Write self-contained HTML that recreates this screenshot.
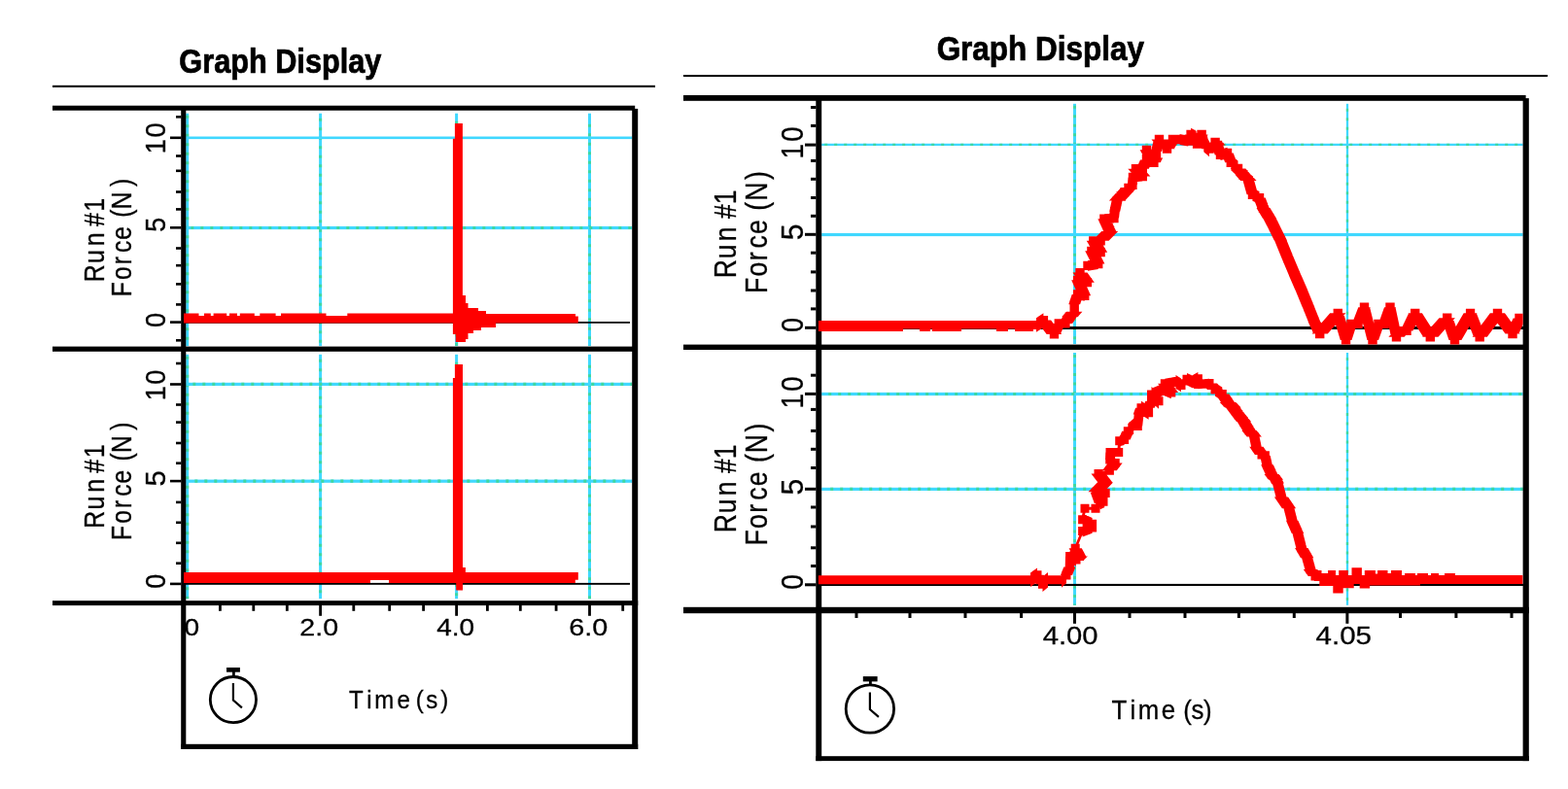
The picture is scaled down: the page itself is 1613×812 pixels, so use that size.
<!DOCTYPE html>
<html lang="en"><head><meta charset="utf-8"><title>Graph Display</title>
<style>
html,body{margin:0;padding:0;background:#fff;}
body{width:1613px;height:812px;overflow:hidden;}
svg{display:block;}
text{font-family:"Liberation Sans",sans-serif;fill:#000;}
</style></head><body>
<svg width="1613" height="812" viewBox="0 0 1613 812">
<rect width="1613" height="812" fill="#fff"/>
<g id="left">
<rect x="191.20" y="116.70" width="3.00" height="239.40" fill="#40d8ff" />
<path d="M192.70 118.7V356.1" stroke="#40d8a0" stroke-width="3.0" stroke-dasharray="3 6.5" fill="none"/>
<rect x="191.20" y="364.80" width="3.00" height="251.40" fill="#40d8ff" />
<path d="M192.70 366.8V616.2" stroke="#40d8a0" stroke-width="3.0" stroke-dasharray="3 6.5" fill="none"/>
<rect x="328.10" y="116.70" width="3.00" height="239.40" fill="#40d8ff" />
<path d="M329.60 121.7V356.1" stroke="#40d8a0" stroke-width="3.0" stroke-dasharray="3 6.5" fill="none"/>
<rect x="328.10" y="364.80" width="3.00" height="251.40" fill="#40d8ff" />
<path d="M329.60 369.8V616.2" stroke="#40d8a0" stroke-width="3.0" stroke-dasharray="3 6.5" fill="none"/>
<rect x="468.10" y="116.70" width="3.00" height="239.40" fill="#40d8ff" />
<path d="M469.60 124.7V356.1" stroke="#40d8a0" stroke-width="3.0" stroke-dasharray="3 6.5" fill="none"/>
<rect x="468.10" y="364.80" width="3.00" height="251.40" fill="#40d8ff" />
<path d="M469.60 372.8V616.2" stroke="#40d8a0" stroke-width="3.0" stroke-dasharray="3 6.5" fill="none"/>
<rect x="605.00" y="116.70" width="3.00" height="239.40" fill="#40d8ff" />
<path d="M606.50 127.7V356.1" stroke="#40d8a0" stroke-width="3.0" stroke-dasharray="3 6.5" fill="none"/>
<rect x="605.00" y="364.80" width="3.00" height="251.40" fill="#40d8ff" />
<path d="M606.50 375.8V616.2" stroke="#40d8a0" stroke-width="3.0" stroke-dasharray="3 6.5" fill="none"/>
<rect x="191.30" y="140.50" width="458.90" height="2.60" fill="#40d8ff" />
<rect x="191.30" y="232.90" width="458.90" height="3.20" fill="#40d8ff" />
<path d="M196.3 234.50H650.2" stroke="#40d8a0" stroke-width="3.2" stroke-dasharray="3 7" fill="none"/>
<rect x="191.30" y="393.80" width="458.90" height="3.20" fill="#40d8ff" />
<path d="M198.3 395.40H650.2" stroke="#40d8a0" stroke-width="3.2" stroke-dasharray="3 7" fill="none"/>
<rect x="191.30" y="493.60" width="458.90" height="3.20" fill="#40d8ff" />
<path d="M200.3 495.20H650.2" stroke="#40d8a0" stroke-width="3.2" stroke-dasharray="3 7" fill="none"/>
<rect x="191.00" y="331.00" width="457.00" height="1.80" fill="#000" />
<rect x="191.00" y="599.90" width="457.00" height="1.90" fill="#000" />
<rect x="54.00" y="87.80" width="620.00" height="2.10" fill="#000" />
<rect x="54.00" y="108.70" width="599.20" height="5.00" fill="#000" />
<rect x="54.00" y="356.60" width="597.20" height="5.20" fill="#000" />
<rect x="54.00" y="618.20" width="602.20" height="4.90" fill="#000" />
<rect x="186.20" y="110.70" width="5.10" height="660.30" fill="#000" />
<rect x="650.20" y="111.90" width="6.00" height="659.10" fill="#000" />
<rect x="186.20" y="765.80" width="470.00" height="5.20" fill="#000" />
<rect x="181.00" y="119.00" width="5.50" height="2.60" fill="#000" />
<rect x="181.00" y="159.20" width="5.50" height="2.60" fill="#000" />
<rect x="181.00" y="174.50" width="5.50" height="2.60" fill="#000" />
<rect x="181.00" y="196.20" width="5.50" height="2.60" fill="#000" />
<rect x="181.00" y="214.10" width="5.50" height="2.60" fill="#000" />
<rect x="181.00" y="254.20" width="5.50" height="2.60" fill="#000" />
<rect x="181.00" y="271.90" width="5.50" height="2.60" fill="#000" />
<rect x="181.00" y="291.10" width="5.50" height="2.60" fill="#000" />
<rect x="181.00" y="312.10" width="5.50" height="2.60" fill="#000" />
<rect x="181.00" y="349.00" width="5.50" height="2.60" fill="#000" />
<rect x="175.00" y="140.50" width="11.50" height="2.60" fill="#000" />
<rect x="175.00" y="233.00" width="11.50" height="2.60" fill="#000" />
<rect x="175.00" y="330.30" width="11.50" height="2.60" fill="#000" />
<rect x="181.00" y="372.70" width="5.50" height="2.60" fill="#000" />
<rect x="181.00" y="415.20" width="5.50" height="2.60" fill="#000" />
<rect x="181.00" y="433.30" width="5.50" height="2.60" fill="#000" />
<rect x="181.00" y="454.70" width="5.50" height="2.60" fill="#000" />
<rect x="181.00" y="475.40" width="5.50" height="2.60" fill="#000" />
<rect x="181.00" y="515.60" width="5.50" height="2.60" fill="#000" />
<rect x="181.00" y="536.50" width="5.50" height="2.60" fill="#000" />
<rect x="181.00" y="557.50" width="5.50" height="2.60" fill="#000" />
<rect x="181.00" y="578.40" width="5.50" height="2.60" fill="#000" />
<rect x="175.00" y="394.20" width="11.50" height="2.60" fill="#000" />
<rect x="175.00" y="493.80" width="11.50" height="2.60" fill="#000" />
<rect x="175.00" y="599.60" width="11.50" height="2.60" fill="#000" />
<rect x="225.00" y="623.00" width="2.80" height="5.80" fill="#000" />
<rect x="259.40" y="623.00" width="2.80" height="5.80" fill="#000" />
<rect x="293.90" y="623.00" width="2.80" height="5.80" fill="#000" />
<rect x="362.40" y="623.00" width="2.80" height="5.80" fill="#000" />
<rect x="399.30" y="623.00" width="2.80" height="5.80" fill="#000" />
<rect x="434.20" y="623.00" width="2.80" height="5.80" fill="#000" />
<rect x="500.00" y="623.00" width="2.80" height="5.80" fill="#000" />
<rect x="533.90" y="623.00" width="2.80" height="5.80" fill="#000" />
<rect x="570.70" y="623.00" width="2.80" height="5.80" fill="#000" />
<rect x="639.30" y="623.00" width="2.80" height="5.80" fill="#000" />
<rect x="328.20" y="623.00" width="2.80" height="10.80" fill="#000" />
<rect x="468.20" y="623.00" width="2.80" height="10.80" fill="#000" />
<rect x="605.10" y="623.00" width="2.80" height="10.80" fill="#000" />
<polygon points="189.0,322.6 204.5,322.6 204.5,325.1 210.0,325.1 210.0,322.6 216.8,322.6 216.8,325.1 219.6,325.1 219.6,322.6 233.2,322.6 233.2,325.1 236.0,325.1 236.0,322.6 244.0,322.6 244.0,325.1 246.8,325.1 246.8,322.6 261.8,322.6 261.8,325.1 267.3,325.1 267.3,322.6 283.6,322.6 283.6,325.1 289.0,325.1 289.0,322.6 335.5,322.6 335.5,325.1 357.3,325.1 357.3,322.6 465.9,322.6 465.9,142.8 467.9,142.8 467.9,127.0 475.9,127.0 475.9,304.0 479.0,304.0 479.0,312.0 481.5,312.0 481.5,317.0 492.0,317.0 492.0,320.0 500.0,320.0 500.0,323.0 592.0,323.0 592.0,325.4 594.8,325.4 594.8,332.6 510.0,332.6 510.0,337.0 495.0,337.0 495.0,340.0 487.0,340.0 487.0,343.0 481.5,343.0 481.5,349.0 479.0,349.0 479.0,352.0 468.7,352.0 468.7,344.0 465.9,344.0 465.9,332.6 189.0,332.6" fill="#fe0000"/>
<polygon points="189.0,588.9 465.9,588.9 465.9,389.0 467.9,389.0 467.9,375.0 476.0,375.0 476.0,584.1 478.9,584.1 478.9,588.9 594.8,588.9 594.8,596.7 591.8,596.7 591.8,599.9 478.9,599.9 476.0,599.9 476.0,607.6 469.2,607.6 469.2,599.9 400.0,599.9 400.0,596.9 381.0,596.9 381.0,599.9 189.0,599.9" fill="#fe0000"/>
<text transform="matrix(0.3068 0 0 0.3433 184.37 74.65)" font-size="100" font-weight="bold" stroke="#000" stroke-width="2.15" >Graph Display</text>
<text transform="matrix(0 -0.2721 0.2926 0 169.56 1000.00)" x="3093.8 3155.0" y="0" font-size="100" stroke="#000" stroke-width="1.06">10</text>
<text transform="matrix(0 -0.2695 0.2968 0 169.55 238.78)" font-size="100" font-weight="normal" stroke="#000" stroke-width="1.06" >5</text>
<text transform="matrix(0 -0.2723 0.2926 0 169.56 337.09)" font-size="100" font-weight="normal" stroke="#000" stroke-width="1.06" >0</text>
<text transform="matrix(0 -0.2721 0.2926 0 169.56 1000.00)" x="2159.9 2221.1" y="0" font-size="100" stroke="#000" stroke-width="1.06">10</text>
<text transform="matrix(0 -0.2926 0.2968 0 169.55 500.57)" font-size="100" font-weight="normal" stroke="#000" stroke-width="1.02" >5</text>
<text transform="matrix(0 -0.2702 0.2926 0 169.56 605.68)" font-size="100" font-weight="normal" stroke="#000" stroke-width="1.07" >0</text>
<text transform="matrix(0 -0.2493 0.2967 0 106.85 1000.00)" x="2846.8 2924.7 2995.5 3025.5 3076.2 3138.0" y="0" font-size="100" stroke="#000" stroke-width="1.10">Run #1</text>
<text transform="matrix(0 -0.2456 0.2924 0 135.45 1000.00)" x="2829.1 2899.0 2963.1 3013.5 3067.3 3097.3 3161.1 3195.3 3289.9" y="0" font-size="100" stroke="#000" stroke-width="1.12">Force (N)</text>
<text transform="matrix(0 -0.2493 0.2967 0 106.85 1000.00)" x="1829.7 1907.6 1978.4 2008.4 2059.2 2120.9" y="0" font-size="100" stroke="#000" stroke-width="1.10">Run #1</text>
<text transform="matrix(0 -0.2456 0.2924 0 135.45 1000.00)" x="1807.9 1877.8 1941.9 1992.3 2046.1 2076.1 2139.8 2174.1 2268.7" y="0" font-size="100" stroke="#000" stroke-width="1.12">Force (N)</text>
<text transform="matrix(0.2806 0 0 0.2431 189.48 654.21)" font-size="100" font-weight="normal" stroke="#000" stroke-width="1.15" >0</text>
<text transform="matrix(0.2856 0 0 0.2431 308.37 654.21)" font-size="100" font-weight="normal" stroke="#000" stroke-width="1.13" >2.0</text>
<text transform="matrix(0.2797 0 0 0.2431 449.17 654.21)" font-size="100" font-weight="normal" stroke="#000" stroke-width="1.15" >4.0</text>
<text transform="matrix(0.2879 0 0 0.2431 585.26 654.21)" font-size="100" font-weight="normal" stroke="#000" stroke-width="1.13" >6.0</text>
<text transform="matrix(0.2404 0 0 0.2531 0 728.85)" x="1493.4 1569.8 1602.3 1699.1 1729.1 1779.7 1823.3 1885.5" y="0" font-size="100" stroke="#000" stroke-width="1.22">Time (s)</text>
<g stroke="#000" fill="none" stroke-width="2.8">
<circle cx="239.9" cy="720.1" r="23.60"/>
<path d="M239.9 703.1 V720.6 L248.9 728.4" stroke-width="2.2"/>
<path d="M240.4 696.1 V690.7" />
</g>
<rect x="233.00" y="687.00" width="13.90" height="4.70" fill="#000" />
</g>
<g id="right">
<rect x="1104.00" y="106.80" width="3.00" height="247.30" fill="#40d8ff" />
<path d="M1105.50 108.8V354.1" stroke="#40d8a0" stroke-width="3.0" stroke-dasharray="3 6.5" fill="none"/>
<rect x="1104.00" y="363.00" width="3.00" height="259.80" fill="#40d8ff" />
<path d="M1105.50 365.0V622.8" stroke="#40d8a0" stroke-width="3.0" stroke-dasharray="3 6.5" fill="none"/>
<rect x="1384.85" y="106.80" width="2.30" height="247.30" fill="#40d8ff" />
<path d="M1386.00 111.8V354.1" stroke="#40d8a0" stroke-width="2.3" stroke-dasharray="3 6.5" fill="none"/>
<rect x="1384.85" y="363.00" width="2.30" height="259.80" fill="#40d8ff" />
<path d="M1386.00 368.0V622.8" stroke="#40d8a0" stroke-width="2.3" stroke-dasharray="3 6.5" fill="none"/>
<rect x="845.20" y="147.75" width="721.40" height="2.30" fill="#40d8ff" />
<path d="M848.2 148.90H1566.6" stroke="#40d8a0" stroke-width="2.3" stroke-dasharray="3 7" fill="none"/>
<rect x="845.20" y="239.90" width="721.40" height="3.20" fill="#40d8ff" />
<rect x="845.20" y="403.90" width="721.40" height="3.20" fill="#40d8ff" />
<path d="M852.2 405.50H1566.6" stroke="#40d8a0" stroke-width="3.2" stroke-dasharray="3 7" fill="none"/>
<rect x="845.20" y="501.80" width="721.40" height="3.20" fill="#40d8ff" />
<path d="M854.2 503.40H1566.6" stroke="#40d8a0" stroke-width="3.2" stroke-dasharray="3 7" fill="none"/>
<rect x="845.00" y="336.00" width="722.00" height="3.00" fill="#000" />
<rect x="845.00" y="600.90" width="722.00" height="2.10" fill="#000" />
<rect x="703.00" y="77.00" width="889.00" height="2.10" fill="#000" />
<rect x="703.00" y="97.90" width="866.60" height="5.90" fill="#000" />
<rect x="703.00" y="354.60" width="864.60" height="5.40" fill="#000" />
<rect x="703.00" y="624.80" width="869.80" height="6.40" fill="#000" />
<rect x="839.30" y="99.90" width="5.90" height="683.20" fill="#000" />
<rect x="1566.60" y="101.10" width="6.20" height="682.00" fill="#000" />
<rect x="839.30" y="778.20" width="733.50" height="4.90" fill="#000" />
<rect x="834.00" y="109.00" width="5.50" height="3.00" fill="#000" />
<rect x="834.00" y="127.90" width="5.50" height="3.00" fill="#000" />
<rect x="834.00" y="163.90" width="5.50" height="3.00" fill="#000" />
<rect x="834.00" y="182.80" width="5.50" height="3.00" fill="#000" />
<rect x="834.00" y="202.00" width="5.50" height="3.00" fill="#000" />
<rect x="834.00" y="220.80" width="5.50" height="3.00" fill="#000" />
<rect x="834.00" y="258.70" width="5.50" height="3.00" fill="#000" />
<rect x="834.00" y="278.40" width="5.50" height="3.00" fill="#000" />
<rect x="834.00" y="297.50" width="5.50" height="3.00" fill="#000" />
<rect x="834.00" y="316.40" width="5.50" height="3.00" fill="#000" />
<rect x="828.00" y="147.60" width="11.50" height="3.00" fill="#000" />
<rect x="828.00" y="239.80" width="11.50" height="3.00" fill="#000" />
<rect x="828.00" y="335.80" width="11.50" height="3.00" fill="#000" />
<rect x="834.00" y="384.70" width="5.50" height="3.00" fill="#000" />
<rect x="834.00" y="419.90" width="5.50" height="3.00" fill="#000" />
<rect x="834.00" y="441.90" width="5.50" height="3.00" fill="#000" />
<rect x="834.00" y="460.80" width="5.50" height="3.00" fill="#000" />
<rect x="834.00" y="480.00" width="5.50" height="3.00" fill="#000" />
<rect x="834.00" y="520.50" width="5.50" height="3.00" fill="#000" />
<rect x="834.00" y="540.50" width="5.50" height="3.00" fill="#000" />
<rect x="834.00" y="562.30" width="5.50" height="3.00" fill="#000" />
<rect x="834.00" y="581.00" width="5.50" height="3.00" fill="#000" />
<rect x="828.00" y="403.90" width="11.50" height="3.00" fill="#000" />
<rect x="828.00" y="501.80" width="11.50" height="3.00" fill="#000" />
<rect x="828.00" y="600.30" width="11.50" height="3.00" fill="#000" />
<rect x="879.50" y="630.80" width="3.00" height="5.20" fill="#000" />
<rect x="934.50" y="630.80" width="3.00" height="5.20" fill="#000" />
<rect x="991.50" y="630.80" width="3.00" height="5.20" fill="#000" />
<rect x="1049.10" y="630.80" width="3.00" height="5.20" fill="#000" />
<rect x="1160.50" y="630.80" width="3.00" height="5.20" fill="#000" />
<rect x="1217.50" y="630.80" width="3.00" height="5.20" fill="#000" />
<rect x="1272.90" y="630.80" width="3.00" height="5.20" fill="#000" />
<rect x="1329.80" y="630.80" width="3.00" height="5.20" fill="#000" />
<rect x="1439.00" y="630.80" width="3.00" height="5.20" fill="#000" />
<rect x="1496.40" y="630.80" width="3.00" height="5.20" fill="#000" />
<rect x="1553.50" y="630.80" width="3.00" height="5.20" fill="#000" />
<rect x="1104.00" y="630.80" width="3.00" height="11.00" fill="#000" />
<rect x="1384.40" y="630.80" width="3.00" height="11.00" fill="#000" />
<clipPath id="cr"><rect x="841.8" y="100" width="724.8" height="530"/></clipPath>
<polygon points="841.8,330.0 1066.0,330.0 1066.0,338.6 1063.0,338.6 1063.0,340.9 1044.0,340.9 1044.0,338.6 1037.0,338.6 1037.0,340.9 1025.0,340.9 1025.0,338.6 989.0,338.6 989.0,340.9 959.0,340.9 959.0,338.6 957.0,338.6 957.0,340.9 946.0,340.9 946.0,338.6 929.0,338.6 929.0,340.9 841.8,340.9" fill="#fe0000" clip-path="url(#cr)"/>
<path d="M1055.3 329.9L1064.7 329.9L1064.7 339.1L1055.3 339.1ZM1061.3 329.9L1070.7 329.9L1070.7 339.1L1061.3 339.1ZM1066.0 329.9L1066.0 339.1L1060.0 339.1L1060.0 329.9ZM1068.8 325.0L1078.1 325.0L1078.1 334.2L1068.8 334.2ZM1073.4 322.3L1073.4 336.9L1066.0 341.8L1066.0 327.2ZM1079.8 339.4L1089.1 339.4L1089.1 348.6L1079.8 348.6ZM1065.7 329.6L1081.1 329.6L1092.1 344.0L1076.7 344.0ZM1084.6 328.2L1094.0 328.2L1094.0 337.5L1084.6 337.5ZM1082.9 332.9L1095.7 332.9L1090.8 344.0L1078.0 344.0ZM1091.2 328.2L1100.6 328.2L1100.6 337.5L1091.2 337.5ZM1095.9 328.2L1095.9 337.5L1089.3 337.5L1089.3 328.2ZM1095.6 321.6L1105.0 321.6L1105.0 330.8L1095.6 330.8ZM1093.1 326.2L1107.5 326.2L1103.1 332.9L1088.7 332.9ZM1100.5 316.1L1109.9 316.1L1109.9 325.3L1100.5 325.3ZM1097.0 320.7L1113.4 320.7L1108.5 326.2L1092.1 326.2ZM1100.5 308.7L1109.9 308.7L1109.9 317.9L1100.5 317.9ZM1100.5 313.3L1109.9 313.3L1109.9 320.7L1100.5 320.7ZM1103.9 298.2L1113.2 298.2L1113.2 307.5L1103.9 307.5ZM1102.7 302.9L1114.5 302.9L1111.1 313.3L1099.3 313.3ZM1111.0 299.7L1120.4 299.7L1120.4 308.9L1111.0 308.9ZM1115.7 298.9L1115.7 309.7L1108.6 308.3L1108.6 297.5ZM1103.9 283.7L1113.2 283.7L1113.2 292.9L1103.9 292.9ZM1102.2 288.3L1115.0 288.3L1122.1 304.3L1109.3 304.3ZM1113.6 286.1L1123.0 286.1L1123.0 295.3L1113.6 295.3ZM1118.3 285.1L1118.3 296.3L1108.6 293.9L1108.6 282.7ZM1106.3 275.9L1115.7 275.9L1115.7 285.1L1106.3 285.1ZM1103.5 280.5L1118.5 280.5L1125.8 290.7L1110.8 290.7ZM1114.3 268.8L1123.7 268.8L1123.7 278.0L1114.3 278.0ZM1119.0 271.9L1119.0 274.8L1111.0 281.9L1111.0 279.1ZM1125.0 267.0L1134.4 267.0L1134.4 276.2L1125.0 276.2ZM1129.7 266.3L1129.7 276.9L1119.0 278.7L1119.0 268.1ZM1118.2 253.7L1127.6 253.7L1127.6 262.9L1118.2 262.9ZM1116.2 258.3L1129.6 258.3L1136.4 271.6L1123.0 271.6ZM1127.4 255.0L1136.8 255.0L1136.8 264.3L1127.4 264.3ZM1132.1 254.4L1132.1 265.0L1122.9 263.6L1122.9 253.0ZM1120.1 243.2L1129.5 243.2L1129.5 252.5L1120.1 252.5ZM1117.7 247.8L1131.9 247.8L1139.2 259.7L1125.0 259.7ZM1127.4 243.2L1136.8 243.2L1136.8 252.5L1127.4 252.5ZM1132.1 243.2L1132.1 252.5L1124.8 252.5L1124.8 243.2ZM1137.0 233.2L1146.4 233.2L1146.4 242.6L1137.0 242.6ZM1133.2 237.9L1150.2 237.9L1140.6 247.8L1123.6 247.8ZM1131.2 220.5L1140.6 220.5L1140.6 229.8L1131.2 229.8ZM1129.4 225.2L1142.4 225.2L1148.2 237.9L1135.2 237.9ZM1141.2 219.8L1150.6 219.8L1150.6 229.2L1141.2 229.2ZM1145.9 219.6L1145.9 229.4L1135.9 230.1L1135.9 220.3ZM1142.0 213.0L1151.4 213.0L1151.4 222.3L1142.0 222.3ZM1141.6 217.7L1151.8 217.7L1151.0 224.5L1140.8 224.5ZM1144.4 201.9L1153.8 201.9L1153.8 211.2L1144.4 211.2ZM1143.6 206.6L1154.6 206.6L1152.2 217.7L1141.2 217.7ZM1148.5 197.3L1157.9 197.3L1157.9 206.7L1148.5 206.7ZM1145.0 202.0L1161.4 202.0L1157.3 206.6L1140.9 206.6ZM1152.4 193.0L1161.8 193.0L1161.8 202.3L1152.4 202.3ZM1148.9 197.7L1165.3 197.7L1161.4 202.0L1145.0 202.0ZM1156.3 188.8L1165.7 188.8L1165.7 198.1L1156.3 198.1ZM1152.8 193.4L1169.2 193.4L1165.3 197.7L1148.9 197.7ZM1160.2 185.7L1169.6 185.7L1169.6 195.0L1160.2 195.0ZM1164.9 182.5L1164.9 198.1L1161.0 201.2L1161.0 185.6ZM1160.8 177.8L1170.2 177.8L1170.2 187.2L1160.8 187.2ZM1160.5 182.5L1170.5 182.5L1169.9 190.3L1159.9 190.3ZM1170.6 176.8L1180.0 176.8L1180.0 186.2L1170.6 186.2ZM1175.3 176.4L1175.3 186.6L1165.5 187.6L1165.5 177.4ZM1163.8 169.0L1173.1 169.0L1173.1 178.3L1163.8 178.3ZM1160.3 173.7L1176.5 173.7L1183.4 181.5L1167.2 181.5ZM1170.6 169.0L1180.0 169.0L1180.0 178.3L1170.6 178.3ZM1175.3 169.0L1175.3 178.3L1168.4 178.3L1168.4 169.0ZM1174.8 159.8L1184.2 159.8L1184.2 169.2L1174.8 169.2ZM1173.0 164.5L1186.0 164.5L1181.8 173.7L1168.8 173.7ZM1174.8 149.7L1184.2 149.7L1184.2 159.0L1174.8 159.0ZM1174.8 154.3L1184.2 154.3L1184.2 164.5L1174.8 164.5ZM1182.2 162.7L1191.6 162.7L1191.6 172.0L1182.2 172.0ZM1172.6 154.3L1186.4 154.3L1193.8 167.3L1180.0 167.3ZM1184.8 157.8L1194.2 157.8L1194.2 167.1L1184.8 167.1ZM1182.8 162.4L1196.2 162.4L1193.6 167.3L1180.2 167.3ZM1184.8 151.2L1194.2 151.2L1194.2 160.6L1184.8 160.6ZM1184.8 155.9L1194.2 155.9L1194.2 162.4L1184.8 162.4ZM1187.8 138.8L1197.2 138.8L1197.2 148.2L1187.8 148.2ZM1186.9 143.5L1198.1 143.5L1195.1 155.9L1183.9 155.9ZM1195.9 148.5L1205.2 148.5L1205.2 157.8L1195.9 157.8ZM1184.5 143.5L1200.5 143.5L1208.6 153.2L1192.6 153.2ZM1201.8 138.8L1211.2 138.8L1211.2 148.2L1201.8 148.2ZM1199.4 143.5L1213.6 143.5L1207.7 153.2L1193.5 153.2ZM1208.9 138.8L1218.2 138.8L1218.2 148.2L1208.9 148.2ZM1213.6 138.8L1213.6 148.2L1206.5 148.2L1206.5 138.8ZM1217.6 140.4L1227.0 140.4L1227.0 149.8L1217.6 149.8ZM1222.3 139.7L1222.3 150.5L1213.6 148.9L1213.6 138.1ZM1220.4 133.8L1229.8 133.8L1229.8 143.2L1220.4 143.2ZM1218.8 138.5L1231.4 138.5L1228.6 145.1L1216.0 145.1ZM1225.9 136.8L1235.2 136.8L1235.2 146.2L1225.9 146.2ZM1230.6 134.7L1230.6 148.3L1225.1 145.3L1225.1 131.7ZM1226.9 143.5L1236.2 143.5L1236.2 152.8L1226.9 152.8ZM1225.4 141.5L1235.8 141.5L1236.8 148.2L1226.4 148.2ZM1231.4 133.8L1240.8 133.8L1240.8 143.2L1231.4 143.2ZM1229.6 138.5L1242.6 138.5L1238.1 148.2L1225.1 148.2ZM1233.6 143.5L1243.0 143.5L1243.0 152.8L1233.6 152.8ZM1230.6 138.5L1241.6 138.5L1243.8 148.2L1232.8 148.2ZM1239.3 148.5L1248.7 148.5L1248.7 157.8L1239.3 157.8ZM1244.0 145.1L1244.0 161.3L1238.3 156.3L1238.3 140.1ZM1245.4 141.8L1254.8 141.8L1254.8 151.2L1245.4 151.2ZM1241.9 146.5L1258.3 146.5L1252.2 153.2L1235.8 153.2ZM1247.8 144.8L1257.2 144.8L1257.2 154.1L1247.8 154.1ZM1242.2 146.5L1258.0 146.5L1260.4 149.4L1244.6 149.4ZM1250.8 154.8L1260.2 154.8L1260.2 164.1L1250.8 164.1ZM1246.7 149.4L1258.3 149.4L1261.3 159.4L1249.7 159.4ZM1257.9 152.8L1267.2 152.8L1267.2 162.2L1257.9 162.2ZM1262.6 151.8L1262.6 163.2L1255.5 165.1L1255.5 153.7ZM1261.6 162.7L1271.0 162.7L1271.0 172.0L1261.6 172.0ZM1256.5 157.5L1268.7 157.5L1272.4 167.3L1260.2 167.3ZM1268.8 168.8L1278.2 168.8L1278.2 178.1L1268.8 178.1ZM1273.5 165.4L1273.5 181.4L1266.3 175.3L1266.3 159.3ZM1274.3 175.3L1283.7 175.3L1283.7 184.7L1274.3 184.7ZM1265.6 173.4L1281.4 173.4L1286.9 180.0L1271.1 180.0ZM1279.8 181.3L1289.1 181.3L1289.1 190.7L1279.8 190.7ZM1270.8 180.0L1287.2 180.0L1292.6 186.0L1276.2 186.0ZM1283.8 195.7L1293.1 195.7L1293.1 205.0L1283.8 205.0ZM1278.6 186.0L1290.2 186.0L1294.2 200.3L1282.6 200.3ZM1290.8 198.9L1300.2 198.9L1300.2 208.2L1290.8 208.2ZM1295.5 197.1L1295.5 210.1L1288.4 206.8L1288.4 193.8ZM1294.8 209.3L1304.2 209.3L1304.2 218.7L1294.8 218.7ZM1289.3 203.6L1301.7 203.6L1305.7 214.0L1293.3 214.0ZM1301.6 220.7L1311.0 220.7L1311.0 230.0L1301.6 230.0ZM1292.5 214.0L1306.5 214.0L1313.3 225.3L1299.3 225.3ZM1305.3 227.8L1314.7 227.8L1314.7 237.2L1305.3 237.2ZM1299.6 225.3L1313.0 225.3L1316.7 232.5L1303.3 232.5ZM1312.8 242.8L1322.1 242.8L1322.1 252.2L1312.8 252.2ZM1303.4 232.5L1316.6 232.5L1324.0 247.5L1310.8 247.5ZM1320.2 261.4L1329.6 261.4L1329.6 270.6L1320.2 270.6ZM1311.1 247.5L1323.7 247.5L1331.2 266.0L1318.6 266.0ZM1327.6 278.9L1337.0 278.9L1337.0 288.1L1327.6 288.1ZM1318.6 266.0L1331.2 266.0L1338.6 283.5L1326.0 283.5ZM1334.1 293.9L1343.5 293.9L1343.5 303.1L1334.1 303.1ZM1325.9 283.5L1338.7 283.5L1345.2 298.5L1332.4 298.5ZM1341.3 311.4L1350.7 311.4L1350.7 320.6L1341.3 320.6ZM1332.5 298.5L1345.1 298.5L1352.3 316.0L1339.7 316.0ZM1347.3 326.4L1356.7 326.4L1356.7 335.6L1347.3 335.6ZM1339.8 316.0L1352.2 316.0L1358.2 331.0L1345.8 331.0ZM1353.0 339.0L1362.4 339.0L1362.4 348.2L1353.0 348.2ZM1345.6 331.0L1358.4 331.0L1364.1 343.6L1351.3 343.6ZM1371.6 317.7L1381.0 317.7L1381.0 326.9L1371.6 326.9ZM1368.2 322.3L1384.4 322.3L1365.8 343.6L1349.6 343.6ZM1379.9 345.4L1389.2 345.4L1389.2 354.6L1379.9 354.6ZM1370.5 322.3L1382.1 322.3L1390.4 350.0L1378.8 350.0ZM1385.3 328.7L1394.7 328.7L1394.7 337.9L1385.3 337.9ZM1384.1 333.3L1395.9 333.3L1390.5 350.0L1378.7 350.0ZM1392.3 328.7L1401.7 328.7L1401.7 337.9L1392.3 337.9ZM1397.0 328.7L1397.0 337.9L1390.0 337.9L1390.0 328.7ZM1398.8 311.6L1408.2 311.6L1408.2 320.8L1398.8 320.8ZM1397.3 316.2L1409.7 316.2L1403.2 333.3L1390.8 333.3ZM1407.3 345.4L1416.7 345.4L1416.7 354.6L1407.3 354.6ZM1397.9 316.2L1409.1 316.2L1417.6 350.0L1406.4 350.0ZM1413.3 328.7L1422.7 328.7L1422.7 337.9L1413.3 337.9ZM1411.9 333.3L1424.1 333.3L1418.1 350.0L1405.9 350.0ZM1419.3 328.7L1428.7 328.7L1428.7 337.9L1419.3 337.9ZM1424.0 328.7L1424.0 337.9L1418.0 337.9L1418.0 328.7ZM1425.3 311.6L1434.7 311.6L1434.7 320.8L1425.3 320.8ZM1424.0 316.2L1436.0 316.2L1430.0 333.3L1418.0 333.3ZM1431.8 342.2L1441.2 342.2L1441.2 351.4L1431.8 351.4ZM1424.5 316.2L1435.5 316.2L1442.0 346.8L1431.0 346.8ZM1437.3 335.9L1446.7 335.9L1446.7 345.1L1437.3 345.1ZM1433.9 340.5L1450.1 340.5L1444.6 346.8L1428.4 346.8ZM1442.3 335.9L1451.7 335.9L1451.7 345.1L1442.3 345.1ZM1447.0 335.9L1447.0 345.1L1442.0 345.1L1442.0 335.9ZM1451.0 317.7L1460.4 317.7L1460.4 326.9L1451.0 326.9ZM1449.2 322.3L1462.2 322.3L1453.5 340.5L1440.5 340.5ZM1466.6 342.2L1476.0 342.2L1476.0 351.4L1466.6 351.4ZM1448.5 322.3L1462.9 322.3L1478.5 346.8L1464.1 346.8ZM1484.0 322.6L1493.4 322.6L1493.4 331.8L1484.0 331.8ZM1480.5 327.2L1496.9 327.2L1479.5 346.8L1463.1 346.8ZM1491.8 345.4L1501.2 345.4L1501.2 354.6L1491.8 354.6ZM1482.7 327.2L1494.7 327.2L1502.5 350.0L1490.5 350.0ZM1507.9 317.7L1517.2 317.7L1517.2 326.9L1507.9 326.9ZM1505.7 322.3L1519.5 322.3L1503.4 350.0L1489.6 350.0ZM1517.5 342.2L1526.9 342.2L1526.9 351.4L1517.5 351.4ZM1506.4 322.3L1518.8 322.3L1528.4 346.8L1516.0 346.8ZM1535.8 317.7L1545.2 317.7L1545.2 326.9L1535.8 326.9ZM1532.9 322.3L1548.1 322.3L1529.8 346.8L1514.6 346.8ZM1551.3 339.0L1560.7 339.0L1560.7 348.2L1551.3 348.2ZM1533.0 322.3L1548.0 322.3L1563.5 343.6L1548.5 343.6ZM1558.3 322.8L1567.7 322.8L1567.7 332.0L1558.3 332.0ZM1556.6 327.4L1569.4 327.4L1562.4 343.6L1549.6 343.6Z" fill="#fe0000" fill-rule="nonzero" clip-path="url(#cr)"/>
<path d="M841.7 592.2L850.7 592.2L850.7 601.2L841.7 601.2ZM1055.5 592.2L1064.5 592.2L1064.5 601.2L1055.5 601.2ZM1060.0 592.2L1060.0 601.2L846.2 601.2L846.2 592.2ZM1062.5 587.2L1071.5 587.2L1071.5 596.2L1062.5 596.2ZM1067.0 584.5L1067.0 598.9L1060.0 603.9L1060.0 589.5ZM1068.0 596.8L1077.0 596.8L1077.0 605.8L1068.0 605.8ZM1060.3 591.7L1073.7 591.7L1079.2 601.3L1065.8 601.3ZM1073.5 592.2L1082.5 592.2L1082.5 601.2L1073.5 601.2ZM1078.0 589.0L1078.0 604.4L1072.5 609.0L1072.5 593.6ZM1087.5 592.2L1096.5 592.2L1096.5 601.2L1087.5 601.2ZM1092.0 592.2L1092.0 601.2L1078.0 601.2L1078.0 592.2ZM1092.5 587.5L1101.5 587.5L1101.5 596.5L1092.5 596.5ZM1097.0 583.9L1097.0 600.1L1092.0 604.8L1092.0 588.6ZM1095.8 579.0L1104.8 579.0L1104.8 588.0L1095.8 588.0ZM1094.3 583.5L1106.3 583.5L1103.0 592.0L1091.0 592.0ZM1096.1 567.9L1105.1 567.9L1105.1 576.9L1096.1 576.9ZM1096.0 572.4L1105.2 572.4L1104.9 583.5L1095.7 583.5ZM1102.5 571.5L1111.5 571.5L1111.5 580.5L1102.5 580.5ZM1107.0 569.3L1107.0 582.7L1100.6 579.1L1100.6 565.7ZM1106.1 567.9L1115.1 567.9L1115.1 576.9L1106.1 576.9ZM1102.3 572.4L1118.9 572.4L1115.3 576.0L1098.7 576.0ZM1101.7 559.8L1110.7 559.8L1110.7 568.8L1101.7 568.8ZM1099.6 564.3L1112.8 564.3L1117.2 572.4L1104.0 572.4ZM1109.1 542.1L1118.1 542.1L1118.1 551.1L1109.1 551.1ZM1112.1 546.6L1115.0 546.6L1107.7 564.3L1104.8 564.3ZM1119.1 538.4L1128.1 538.4L1128.1 547.4L1119.1 547.4ZM1123.6 537.0L1123.6 548.8L1113.6 552.5L1113.6 540.7ZM1119.1 534.7L1128.1 534.7L1128.1 543.7L1119.1 543.7ZM1119.1 539.2L1128.1 539.2L1128.1 542.9L1119.1 542.9ZM1109.1 530.2L1118.1 530.2L1118.1 539.2L1109.1 539.2ZM1123.6 533.0L1123.6 545.4L1113.6 540.9L1113.6 528.5ZM1111.5 518.7L1120.5 518.7L1120.5 527.7L1111.5 527.7ZM1114.5 523.2L1117.5 523.2L1115.0 534.7L1112.1 534.7ZM1122.5 518.7L1131.5 518.7L1131.5 527.7L1122.5 527.7ZM1127.0 521.8L1127.0 524.7L1116.0 524.7L1116.0 521.8ZM1130.5 511.8L1139.5 511.8L1139.5 520.8L1130.5 520.8ZM1135.0 514.8L1135.0 517.8L1127.0 524.7L1127.0 521.8ZM1127.2 513.4L1136.2 513.4L1136.2 522.4L1127.2 522.4ZM1135.0 509.9L1135.0 522.7L1131.7 524.3L1131.7 511.5ZM1123.1 502.2L1132.1 502.2L1132.1 511.2L1123.1 511.2ZM1121.7 506.7L1133.5 506.7L1137.6 517.9L1125.8 517.9ZM1132.7 502.9L1141.7 502.9L1141.7 511.9L1132.7 511.9ZM1137.2 502.6L1137.2 512.2L1127.6 511.5L1127.6 501.9ZM1123.1 501.7L1132.1 501.7L1132.1 510.7L1123.1 510.7ZM1137.2 502.4L1137.2 512.4L1127.6 511.2L1127.6 501.2ZM1132.4 491.9L1141.4 491.9L1141.4 500.9L1132.4 500.9ZM1128.8 496.4L1145.0 496.4L1135.7 506.2L1119.5 506.2ZM1125.5 483.1L1134.5 483.1L1134.5 492.1L1125.5 492.1ZM1122.5 487.6L1137.5 487.6L1144.4 496.4L1129.4 496.4ZM1136.9 479.8L1145.9 479.8L1145.9 488.8L1136.9 488.8ZM1141.4 482.9L1141.4 485.8L1130.0 489.1L1130.0 486.2ZM1142.7 472.1L1151.7 472.1L1151.7 481.1L1142.7 481.1ZM1139.8 476.6L1154.6 476.6L1148.8 484.3L1134.0 484.3ZM1137.2 468.6L1146.2 468.6L1146.2 477.6L1137.2 477.6ZM1147.2 469.7L1147.2 483.5L1141.7 480.0L1141.7 466.2ZM1137.5 461.0L1146.5 461.0L1146.5 470.0L1137.5 470.0ZM1137.3 465.5L1146.7 465.5L1146.4 473.1L1137.0 473.1ZM1146.2 461.0L1155.2 461.0L1155.2 470.0L1146.2 470.0ZM1150.7 461.0L1150.7 470.0L1142.0 470.0L1142.0 461.0ZM1147.2 449.3L1156.2 449.3L1156.2 458.3L1147.2 458.3ZM1150.2 453.8L1153.2 453.8L1152.2 465.5L1149.2 465.5ZM1152.1 448.1L1161.1 448.1L1161.1 457.1L1152.1 457.1ZM1156.6 447.2L1156.6 458.0L1151.7 459.2L1151.7 448.4ZM1155.8 439.3L1164.8 439.3L1164.8 448.3L1155.8 448.3ZM1154.2 443.8L1166.4 443.8L1162.7 452.6L1150.5 452.6ZM1161.7 434.1L1170.7 434.1L1170.7 443.1L1161.7 443.1ZM1166.2 430.7L1166.2 446.5L1160.3 451.7L1160.3 435.9ZM1165.8 434.1L1174.8 434.1L1174.8 443.1L1165.8 443.1ZM1170.3 434.1L1170.3 443.1L1166.2 443.1L1166.2 434.1ZM1167.1 422.1L1176.1 422.1L1176.1 431.1L1167.1 431.1ZM1166.7 426.6L1176.5 426.6L1175.2 438.6L1165.4 438.6ZM1169.5 415.3L1178.5 415.3L1178.5 424.3L1169.5 424.3ZM1168.1 419.8L1179.9 419.8L1177.5 426.6L1165.7 426.6ZM1177.1 420.3L1186.1 420.3L1186.1 429.3L1177.1 429.3ZM1181.6 417.8L1181.6 431.8L1174.0 426.8L1174.0 412.8ZM1177.1 415.3L1186.1 415.3L1186.1 424.3L1177.1 424.3ZM1177.1 419.8L1186.1 419.8L1186.1 424.8L1177.1 424.8ZM1180.0 408.3L1189.0 408.3L1189.0 417.3L1180.0 417.3ZM1178.4 412.8L1190.6 412.8L1187.7 419.8L1175.5 419.8ZM1187.5 408.3L1196.5 408.3L1196.5 417.3L1187.5 417.3ZM1192.0 408.3L1192.0 417.3L1184.5 417.3L1184.5 408.3ZM1180.0 401.4L1189.0 401.4L1189.0 410.4L1180.0 410.4ZM1192.0 404.8L1192.0 420.8L1184.5 413.9L1184.5 397.9ZM1192.7 396.2L1201.7 396.2L1201.7 405.2L1192.7 405.2ZM1197.2 394.6L1197.2 406.8L1184.5 412.0L1184.5 399.8ZM1200.3 399.6L1209.3 399.6L1209.3 408.6L1200.3 408.6ZM1204.8 397.9L1204.8 410.3L1197.2 406.9L1197.2 394.5ZM1193.8 390.3L1202.8 390.3L1202.8 399.3L1193.8 399.3ZM1191.1 394.8L1205.5 394.8L1212.0 404.1L1197.6 404.1ZM1205.0 388.4L1214.0 388.4L1214.0 397.4L1205.0 397.4ZM1209.5 387.8L1209.5 398.0L1198.3 399.9L1198.3 389.7ZM1210.5 391.9L1219.5 391.9L1219.5 400.9L1210.5 400.9ZM1215.0 389.5L1215.0 403.3L1209.5 399.8L1209.5 386.0ZM1216.5 385.7L1225.5 385.7L1225.5 394.7L1216.5 394.7ZM1212.8 390.2L1229.2 390.2L1223.2 396.4L1206.8 396.4ZM1222.1 388.4L1231.1 388.4L1231.1 397.4L1222.1 397.4ZM1226.6 386.6L1226.6 399.2L1221.0 396.5L1221.0 383.9ZM1227.9 385.2L1236.9 385.2L1236.9 394.2L1227.9 394.2ZM1232.4 383.1L1232.4 396.3L1226.6 399.5L1226.6 386.3ZM1227.9 391.0L1236.9 391.0L1236.9 400.0L1227.9 400.0ZM1227.9 389.7L1236.9 389.7L1236.9 395.5L1227.9 395.5ZM1239.5 390.0L1248.5 390.0L1248.5 399.0L1239.5 399.0ZM1244.0 389.7L1244.0 399.3L1232.4 400.3L1232.4 390.7ZM1245.5 396.5L1254.5 396.5L1254.5 405.5L1245.5 405.5ZM1236.0 394.5L1252.0 394.5L1258.0 401.0L1242.0 401.0ZM1252.8 400.9L1261.8 400.9L1261.8 409.9L1252.8 409.9ZM1257.3 398.6L1257.3 412.2L1250.0 407.8L1250.0 394.2ZM1258.5 409.5L1267.5 409.5L1267.5 418.5L1258.5 418.5ZM1250.3 405.4L1264.3 405.4L1270.0 414.0L1256.0 414.0ZM1263.9 415.0L1272.9 415.0L1272.9 424.0L1263.9 424.0ZM1254.7 414.0L1271.3 414.0L1276.7 419.5L1260.1 419.5ZM1269.5 422.5L1278.5 422.5L1278.5 431.5L1269.5 431.5ZM1261.0 419.5L1275.8 419.5L1281.4 427.0L1266.6 427.0ZM1275.0 429.5L1284.0 429.5L1284.0 438.5L1275.0 438.5ZM1266.5 427.0L1281.5 427.0L1287.0 434.0L1272.0 434.0ZM1280.5 438.5L1289.5 438.5L1289.5 447.5L1280.5 447.5ZM1272.7 434.0L1286.3 434.0L1291.8 443.0L1278.2 443.0ZM1285.8 445.0L1294.8 445.0L1294.8 454.0L1285.8 454.0ZM1277.4 443.0L1292.6 443.0L1297.9 449.5L1282.7 449.5ZM1287.9 455.3L1296.9 455.3L1296.9 464.3L1287.9 464.3ZM1285.0 449.5L1295.6 449.5L1297.7 459.8L1287.1 459.8ZM1293.5 463.5L1302.5 463.5L1302.5 472.5L1293.5 472.5ZM1285.3 459.8L1299.5 459.8L1305.1 468.0L1290.9 468.0ZM1296.9 464.2L1305.9 464.2L1305.9 473.2L1296.9 473.2ZM1301.4 463.4L1301.4 474.0L1298.0 473.3L1298.0 462.7ZM1299.0 473.8L1308.0 473.8L1308.0 482.8L1299.0 482.8ZM1296.1 468.7L1306.7 468.7L1308.8 478.3L1298.2 478.3ZM1303.5 483.5L1312.5 483.5L1312.5 492.5L1303.5 492.5ZM1297.2 478.3L1309.8 478.3L1314.3 488.0L1301.7 488.0ZM1308.0 489.3L1317.0 489.3L1317.0 498.3L1308.0 498.3ZM1300.5 488.0L1315.5 488.0L1320.0 493.8L1305.0 493.8ZM1309.9 492.9L1318.9 492.9L1318.9 501.9L1309.9 501.9ZM1306.0 493.8L1319.0 493.8L1320.9 497.4L1307.9 497.4ZM1313.5 506.9L1322.5 506.9L1322.5 515.9L1313.5 515.9ZM1308.9 497.4L1319.9 497.4L1323.5 511.4L1312.5 511.4ZM1321.5 518.8L1330.5 518.8L1330.5 527.8L1321.5 527.8ZM1310.9 511.4L1325.1 511.4L1333.1 523.3L1318.9 523.3ZM1324.7 531.3L1333.7 531.3L1333.7 540.3L1324.7 540.3ZM1320.5 523.3L1331.5 523.3L1334.7 535.8L1323.7 535.8ZM1330.5 544.5L1339.5 544.5L1339.5 553.5L1330.5 553.5ZM1323.0 535.8L1335.4 535.8L1341.2 549.0L1328.8 549.0ZM1334.3 559.5L1343.3 559.5L1343.3 568.5L1334.3 568.5ZM1329.5 549.0L1340.5 549.0L1344.3 564.0L1333.3 564.0ZM1340.2 569.8L1349.2 569.8L1349.2 578.8L1340.2 578.8ZM1332.1 564.0L1345.5 564.0L1351.4 574.3L1338.0 574.3ZM1343.5 581.5L1352.5 581.5L1352.5 590.5L1343.5 590.5ZM1339.1 574.3L1350.3 574.3L1353.6 586.0L1342.4 586.0ZM1348.5 588.5L1357.5 588.5L1357.5 597.5L1348.5 597.5ZM1340.8 586.0L1355.2 586.0L1360.2 593.0L1345.8 593.0Z" fill="#fe0000" fill-rule="nonzero" clip-path="url(#cr)"/>
<polygon points="1351.8,587.1 1359.5,587.1 1359.5,590.1 1366.1,590.1 1366.1,587.1 1374.0,587.1 1374.0,592.0 1377.2,592.0 1377.2,587.1 1386.8,587.1 1386.8,592.0 1390.5,592.0 1390.5,584.2 1400.9,584.2 1400.9,592.0 1403.8,592.0 1403.8,587.1 1414.9,587.1 1414.9,590.5 1417.1,590.5 1417.1,587.1 1427.5,587.1 1427.5,590.0 1431.0,590.0 1431.0,587.0 1442.0,587.0 1442.0,592.0 1445.0,592.0 1445.0,590.0 1456.0,590.0 1456.0,592.0 1458.0,592.0 1458.0,590.0 1469.0,590.0 1469.0,592.0 1472.0,592.0 1472.0,590.0 1480.0,590.0 1480.0,592.0 1486.0,592.0 1486.0,590.0 1497.0,590.0 1497.0,592.1 1566.6,592.1 1566.6,601.0 1461.0,601.0 1461.0,602.5 1409.0,602.5 1409.0,605.6 1398.7,605.6 1398.7,601.0 1392.7,601.0 1392.7,605.3 1381.7,605.3 1381.7,610.5 1371.3,610.5 1371.3,603.1 1357.3,603.1 1357.3,598.0 1351.8,598.0" fill="#fe0000" clip-path="url(#cr)"/>
<text transform="matrix(0.3148 0 0 0.3447 963.64 62.15)" font-size="100" font-weight="bold" stroke="#000" stroke-width="2.12" >Graph Display</text>
<text transform="matrix(0 -0.2760 0.3067 0 825.54 1000.00)" x="3031.0 3095.3" y="0" font-size="100" stroke="#000" stroke-width="1.03">10</text>
<text transform="matrix(0 -0.3032 0.3111 0 825.54 247.31)" font-size="100" font-weight="normal" stroke="#000" stroke-width="0.98" >5</text>
<text transform="matrix(0 -0.2639 0.3067 0 825.54 341.66)" font-size="100" font-weight="normal" stroke="#000" stroke-width="1.05" >0</text>
<text transform="matrix(0 -0.2760 0.3067 0 825.54 1000.00)" x="2100.0 2164.3" y="0" font-size="100" stroke="#000" stroke-width="1.03">10</text>
<text transform="matrix(0 -0.3011 0.3111 0 825.54 509.40)" font-size="100" font-weight="normal" stroke="#000" stroke-width="0.98" >5</text>
<text transform="matrix(0 -0.2827 0.3067 0 825.54 606.63)" font-size="100" font-weight="normal" stroke="#000" stroke-width="1.02" >0</text>
<text transform="matrix(0 -0.2652 0.3084 0 757.35 1000.00)" x="2691.1 2766.4 2834.8 2864.8 2922.1 2978.1" y="0" font-size="100" stroke="#000" stroke-width="1.05">Run #1</text>
<text transform="matrix(0 -0.2664 0.3098 0 789.45 1000.00)" x="2619.7 2685.6 2746.9 2795.1 2849.4 2879.4 2940.6 2977.3 3059.1" y="0" font-size="100" stroke="#000" stroke-width="1.04">Force (N)</text>
<text transform="matrix(0 -0.2652 0.3084 0 757.35 1000.00)" x="1703.5 1778.9 1847.2 1877.2 1934.5 1990.5" y="0" font-size="100" stroke="#000" stroke-width="1.05">Run #1</text>
<text transform="matrix(0 -0.2664 0.3098 0 789.45 1000.00)" x="1645.8 1711.7 1773.0 1821.2 1875.5 1905.5 1966.7 2003.3 2085.1" y="0" font-size="100" stroke="#000" stroke-width="1.04">Force (N)</text>
<text transform="matrix(0.2923 0 0 0.2657 1072.74 662.68)" font-size="100" font-weight="normal" stroke="#000" stroke-width="1.08" >4.00</text>
<text transform="matrix(0.2954 0 0 0.2657 1353.54 662.68)" font-size="100" font-weight="normal" stroke="#000" stroke-width="1.07" >4.05</text>
<text transform="matrix(0.2584 0 0 0.2720 0 739.75)" x="4425.8 4499.3 4530.6 4624.0 4654.0 4710.4 4742.8 4791.0" y="0" font-size="100" stroke="#000" stroke-width="1.13">Time (s)</text>
<g stroke="#000" fill="none" stroke-width="2.8">
<circle cx="894.9" cy="729.5" r="24.70"/>
<path d="M894.9 712.5 V730.0 L903.9 737.8" stroke-width="2.2"/>
<path d="M895.4 704.4 V700.4" />
</g>
<rect x="887.80" y="696.10" width="14.80" height="5.30" fill="#000" />
</g>
</svg></body></html>
